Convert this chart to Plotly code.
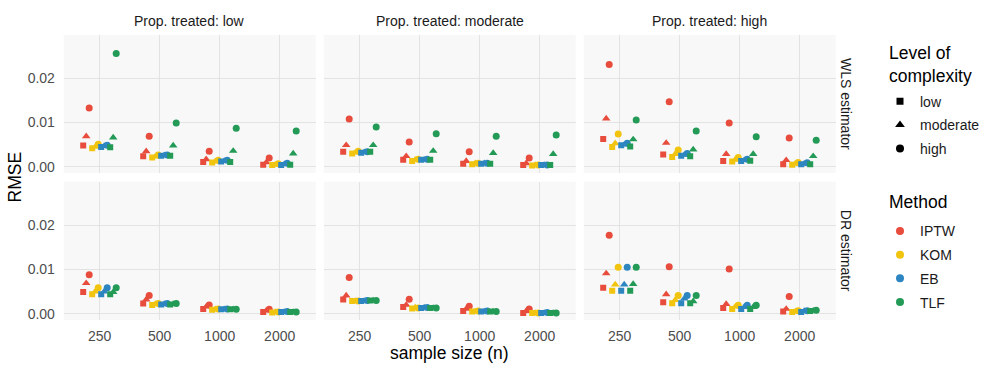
import plotly.graph_objects as go

# ── Data (RMSE) ────────────────────────────────────────────────────────────────
N_LABELS = ["250", "500", "1000", "2000"]
COMPLEXITY = ["low", "moderate", "high"]
METHODS = ["IPTW", "KOM", "EB", "TLF"]
PROP = ["low", "moderate", "high"]
ESTIMATORS = ["WLS estimator", "DR estimator"]

# each list: rows = complexity (low, moderate, high), columns = n (250..2000)
WLS_LOW_IPTW = [[0.0048, 0.0024, 0.0011, 0.0005], [0.0069, 0.0035, 0.0017, 0.0010], [0.0133, 0.0069, 0.0035, 0.0020]]
WLS_LOW_KOM = [[0.0042, 0.0021, 0.0010, 0.0004], [0.0045, 0.0023, 0.0012, 0.0005], [0.0051, 0.0027, 0.0015, 0.0007]]
WLS_LOW_EB = [[0.0045, 0.0025, 0.0012, 0.0004], [0.0047, 0.0026, 0.0013, 0.0006], [0.0049, 0.0027, 0.0015, 0.0008]]
WLS_LOW_TLF = [[0.0044, 0.0025, 0.0011, 0.0005], [0.0066, 0.0048, 0.0036, 0.0030], [0.0256, 0.0099, 0.0087, 0.0081]]

WLS_MOD_IPTW = [[0.0034, 0.0016, 0.0007, 0.0004], [0.0049, 0.0024, 0.0013, 0.0008], [0.0108, 0.0056, 0.0034, 0.0020]]
WLS_MOD_KOM = [[0.0030, 0.0013, 0.0006, 0.0003], [0.0032, 0.0016, 0.0008, 0.0004], [0.0035, 0.0017, 0.0008, 0.0004]]
WLS_MOD_EB = [[0.0032, 0.0016, 0.0007, 0.0004], [0.0033, 0.0016, 0.0008, 0.0004], [0.0034, 0.0017, 0.0008, 0.0004]]
WLS_MOD_TLF = [[0.0034, 0.0016, 0.0007, 0.0004], [0.0049, 0.0036, 0.0031, 0.0029], [0.0090, 0.0075, 0.0069, 0.0072]]

WLS_HIGH_IPTW = [[0.0063, 0.0028, 0.0013, 0.0006], [0.0109, 0.0054, 0.0029, 0.0015], [0.0231, 0.0147, 0.0099, 0.0065]]
WLS_HIGH_KOM = [[0.0045, 0.0022, 0.0012, 0.0005], [0.0053, 0.0029, 0.0016, 0.0007], [0.0074, 0.0038, 0.0021, 0.0010]]
WLS_HIGH_EB = [[0.0049, 0.0025, 0.0013, 0.0006], [0.0050, 0.0027, 0.0015, 0.0007], [0.0053, 0.0030, 0.0017, 0.0009]]
WLS_HIGH_TLF = [[0.0046, 0.0024, 0.0014, 0.0006], [0.0062, 0.0039, 0.0029, 0.0024], [0.0106, 0.0081, 0.0068, 0.0060]]

DR_LOW_IPTW = [[0.0049, 0.0023, 0.0011, 0.0004], [0.0069, 0.0032, 0.0016, 0.0007], [0.0088, 0.0041, 0.0020, 0.0010]]
DR_LOW_KOM = [[0.0044, 0.0020, 0.0009, 0.0003], [0.0050, 0.0022, 0.0010, 0.0004], [0.0059, 0.0023, 0.0011, 0.0004]]
DR_LOW_EB = [[0.0044, 0.0021, 0.0010, 0.0004], [0.0050, 0.0022, 0.0010, 0.0004], [0.0059, 0.0023, 0.0011, 0.0005]]
DR_LOW_TLF = [[0.0044, 0.0021, 0.0010, 0.0004], [0.0049, 0.0022, 0.0010, 0.0004], [0.0059, 0.0023, 0.0010, 0.0004]]

DR_MOD_IPTW = [[0.0032, 0.0015, 0.0006, 0.0002], [0.0041, 0.0020, 0.0011, 0.0006], [0.0082, 0.0033, 0.0017, 0.0011]]
DR_MOD_KOM = [[0.0029, 0.0012, 0.0005, 0.0002], [0.0029, 0.0014, 0.0005, 0.0002], [0.0029, 0.0013, 0.0006, 0.0002]]
DR_MOD_EB = [[0.0029, 0.0013, 0.0005, 0.0002], [0.0029, 0.0014, 0.0005, 0.0002], [0.0030, 0.0014, 0.0006, 0.0003]]
DR_MOD_TLF = [[0.0030, 0.0013, 0.0005, 0.0002], [0.0030, 0.0013, 0.0005, 0.0002], [0.0030, 0.0013, 0.0005, 0.0002]]

DR_HIGH_IPTW = [[0.0059, 0.0026, 0.0013, 0.0005], [0.0091, 0.0044, 0.0022, 0.0011], [0.0177, 0.0106, 0.0101, 0.0039]]
DR_HIGH_KOM = [[0.0052, 0.0024, 0.0011, 0.0004], [0.0066, 0.0031, 0.0016, 0.0005], [0.0105, 0.0041, 0.0019, 0.0007]]
DR_HIGH_EB = [[0.0052, 0.0024, 0.0011, 0.0004], [0.0066, 0.0034, 0.0015, 0.0006], [0.0105, 0.0041, 0.0019, 0.0007]]
DR_HIGH_TLF = [[0.0052, 0.0024, 0.0011, 0.0006], [0.0067, 0.0028, 0.0015, 0.0007], [0.0105, 0.0041, 0.0019, 0.0008]]

# panel lookup: (estimator row, prop column) -> per-method arrays
PANELS = {
    (0, 0): [WLS_LOW_IPTW, WLS_LOW_KOM, WLS_LOW_EB, WLS_LOW_TLF],
    (0, 1): [WLS_MOD_IPTW, WLS_MOD_KOM, WLS_MOD_EB, WLS_MOD_TLF],
    (0, 2): [WLS_HIGH_IPTW, WLS_HIGH_KOM, WLS_HIGH_EB, WLS_HIGH_TLF],
    (1, 0): [DR_LOW_IPTW, DR_LOW_KOM, DR_LOW_EB, DR_LOW_TLF],
    (1, 1): [DR_MOD_IPTW, DR_MOD_KOM, DR_MOD_EB, DR_MOD_TLF],
    (1, 2): [DR_HIGH_IPTW, DR_HIGH_KOM, DR_HIGH_EB, DR_HIGH_TLF],
}

# ── Styling ────────────────────────────────────────────────────────────────────
METHOD_COLOR = {"IPTW": "#E74C3C", "KOM": "#F1C40F", "EB": "#2E86C1", "TLF": "#239B56"}
SYMBOL = {"low": "square", "moderate": "triangle-up", "high": "circle"}
SIZE = {"low": 6, "moderate": 7.5, "high": 7}
FONT = "Liberation Sans, Arial, sans-serif"
W, H = 996, 372
DODGE = 0.6

X_DOM = [(63.7, 315.7), (323.7, 575.7), (583.7, 835.7)]
Y_DOM = [(35, 174), (182.7, 321.7)]

fig = go.Figure()

n_groups = len(METHODS) * len(COMPLEXITY)
for (r, c), arrays in PANELS.items():
    k = r * 3 + c + 1
    xa = "x" if k == 1 else f"x{k}"
    ya = "y" if k == 1 else f"y{k}"
    for mi, method in enumerate(METHODS):
        for ci, cx in enumerate(COMPLEXITY):
            g = mi * len(COMPLEXITY) + ci
            off = (g - (n_groups - 1) / 2) * DODGE / n_groups
            fig.add_trace(
                go.Scatter(
                    x=[i + off for i in range(len(N_LABELS))],
                    y=arrays[mi][ci],
                    mode="markers",
                    marker={"symbol": SYMBOL[cx], "size": SIZE[cx], "color": METHOD_COLOR[method]},
                    xaxis=xa,
                    yaxis=ya,
                    showlegend=False,
                    hovertemplate=f"{method}, {cx}<br>RMSE=%{{y:.4f}}<extra></extra>",
                )
            )

# legend-only entries
for cx in COMPLEXITY:
    fig.add_trace(
        go.Scatter(
            x=[None], y=[None], mode="markers", name=cx, legend="legend", legendgroup="c" + cx,
            marker={"symbol": SYMBOL[cx], "size": SIZE[cx] + 1, "color": "black"},
        )
    )
for method in METHODS:
    fig.add_trace(
        go.Scatter(
            x=[None], y=[None], mode="markers", name=method, legend="legend2", legendgroup="m" + method,
            marker={"symbol": "circle", "size": 8, "color": METHOD_COLOR[method]},
        )
    )

layout = {}
for r in range(2):
    for c in range(3):
        k = r * 3 + c + 1
        sx = "" if k == 1 else str(k)
        layout[f"xaxis{sx}"] = {
            "domain": [X_DOM[c][0] / W, X_DOM[c][1] / W],
            "anchor": f"y{sx}",
            "range": [-0.6, len(N_LABELS) - 0.4],
            "tickvals": list(range(len(N_LABELS))),
            "ticktext": N_LABELS,
            "showticklabels": r == 1,
            "ticks": "outside" if r == 1 else "",
            "ticklen": 3,
            "tickcolor": "rgba(0,0,0,0)",
            "showgrid": True,
            "gridcolor": "#E3E3E3",
            "gridwidth": 1,
            "zeroline": False,
            "showline": False,
            "tickfont": {"size": 14, "color": "#4D4D4D"},
        }
        layout[f"yaxis{sx}"] = {
            "domain": [1 - Y_DOM[r][1] / H, 1 - Y_DOM[r][0] / H],
            "anchor": f"x{sx}",
            "range": [-0.0014, 0.0298],
            "tickvals": [0, 0.01, 0.02],
            "tickformat": ".2f",
            "showticklabels": c == 0,
            "ticks": "outside" if c == 0 else "",
            "ticklen": 5,
            "tickcolor": "rgba(0,0,0,0)",
            "showgrid": True,
            "gridcolor": "#E3E3E3",
            "gridwidth": 1,
            "zeroline": False,
            "showline": False,
            "tickfont": {"size": 14, "color": "#4D4D4D"},
        }


def note(text, x, y, size=14, color="#1A1A1A", angle=0, xanchor="center"):
    return {
        "text": text, "xref": "paper", "yref": "paper", "x": x / W, "y": 1 - y / H,
        "xanchor": xanchor, "yanchor": "middle", "showarrow": False, "textangle": angle,
        "align": "left" if xanchor == "left" else "center",
        "font": {"size": size, "color": color},
    }


annotations = []
for c, p in enumerate(PROP):
    annotations.append(note(f"Prop. treated: {p}", (X_DOM[c][0] + X_DOM[c][1]) / 2, 21))
for r, est in enumerate(ESTIMATORS):
    annotations.append(note(est, 846, (Y_DOM[r][0] + Y_DOM[r][1]) / 2, angle=90))
annotations.append(note("sample size (n)", (X_DOM[0][0] + X_DOM[2][1]) / 2, 355, size=17.5, color="black"))
annotations.append(note("RMSE", 15, (Y_DOM[0][0] + Y_DOM[1][1]) / 2, size=17.5, color="black", angle=-90))
# legend titles
annotations.append(note("Level of<br>complexity", 887, 64.5, size=17.5, color="black", xanchor="left"))
annotations.append(note("Method", 887, 203, size=17.5, color="black", xanchor="left"))

fig.update_layout(
    **layout,
    width=W,
    height=H,
    margin={"l": 0, "r": 0, "t": 0, "b": 0},
    paper_bgcolor="white",
    plot_bgcolor="#F8F8F8",
    font={"family": FONT},
    annotations=annotations,
    legend={
        "x": 880 / W, "y": 1 - 86 / H, "xanchor": "left", "yanchor": "top",
        "font": {"size": 14, "color": "#1A1A1A"},
        "traceorder": "grouped", "tracegroupgap": 2.5,
        "bgcolor": "rgba(0,0,0,0)",
    },
    legend2={
        "x": 880 / W, "y": 1 - 216.5 / H, "xanchor": "left", "yanchor": "top",
        "font": {"size": 14, "color": "#1A1A1A"},
        "traceorder": "grouped", "tracegroupgap": 2.5,
        "bgcolor": "rgba(0,0,0,0)",
    },
)

fig.write_html(
    "out.html",
    config={"displayModeBar": False},
    post_script="document.body.style.margin='0';",
)
